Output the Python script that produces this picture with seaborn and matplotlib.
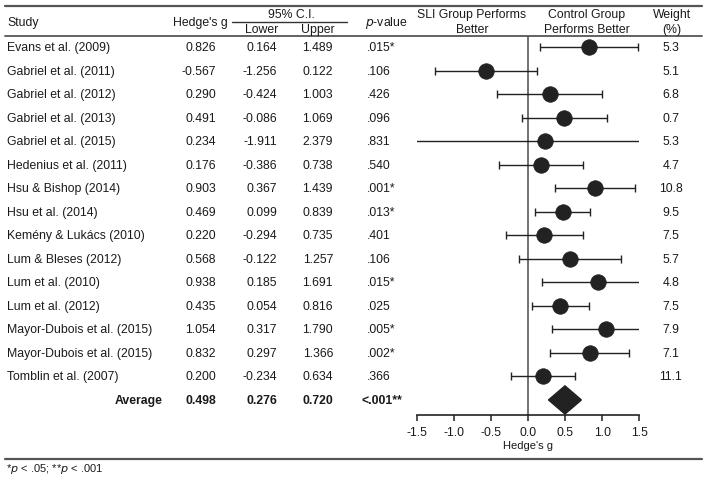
import matplotlib
matplotlib.use("Agg")
import matplotlib.pyplot as plt
import matplotlib.transforms as mtransforms
import numpy as np
import pandas as pd
import seaborn as sns

studies = ["Evans et al. (2009)", "Gabriel et al. (2011)", "Gabriel et al. (2012)",
           "Gabriel et al. (2013)", "Gabriel et al. (2015)", "Hedenius et al. (2011)",
           "Hsu & Bishop (2014)", "Hsu et al. (2014)", "Kemény & Lukács (2010)",
           "Lum & Bleses (2012)", "Lum et al. (2010)", "Lum et al. (2012)",
           "Mayor-Dubois et al. (2015)", "Mayor-Dubois et al. (2015)", "Tomblin et al. (2007)"]
hedges_g = [0.826, -0.567, 0.290, 0.491, 0.234, 0.176, 0.903, 0.469, 0.220, 0.568,
            0.938, 0.435, 1.054, 0.832, 0.200]
ci_lower = [0.164, -1.256, -0.424, -0.086, -1.911, -0.386, 0.367, 0.099, -0.294, -0.122,
            0.185, 0.054, 0.317, 0.297, -0.234]
ci_upper = [1.489, 0.122, 1.003, 1.069, 2.379, 0.738, 1.439, 0.839, 0.735, 1.257,
            1.691, 0.816, 1.790, 1.366, 0.634]
p_values = [".015*", ".106", ".426", ".096", ".831", ".540", ".001*", ".013*", ".401",
            ".106", ".015*", ".025", ".005*", ".002*", ".366"]
weights = ["5.3", "5.1", "6.8", "0.7", "5.3", "4.7", "10.8", "9.5", "7.5", "5.7",
           "4.8", "7.5", "7.9", "7.1", "11.1"]
avg_g, avg_lower, avg_upper, avg_p = 0.498, 0.276, 0.720, "<.001**"
xticks = [-1.5, -1.0, -0.5, 0.0, 0.5, 1.0, 1.5]

df = pd.DataFrame({"study": studies, "g": hedges_g, "lo": ci_lower, "hi": ci_upper,
                   "row": np.arange(len(studies))})
avg_row = len(studies)

sns.set_theme(style="white")
plt.rcParams["font.family"] = ["Liberation Sans", "DejaVu Sans"]
TXT = "#1a1a1a"
FS = 8.8

W, H = 708, 481
fig = plt.figure(figsize=(W / 100, H / 100), dpi=100)

# forest axes: x from px 416.7 to 639.3; y from px 37 to 415
top_px, bot_px = 37, 415.5
ax = fig.add_axes([416.7 / W, 1 - bot_px / H, (639.3 - 416.7) / W, (bot_px - top_px) / H])
row0_px, step_px = 48, 23.53
ax.set_ylim((bot_px - row0_px) / step_px, (top_px - row0_px) / step_px)
ax.set_xlim(-1.5, 1.5)
ax.patch.set_alpha(0)

ax.axvline(0, color="#666666", lw=1.3, zorder=1)
ax.errorbar(df["g"], df["row"], xerr=[df["g"] - df["lo"], df["hi"] - df["g"]],
            fmt="none", ecolor="#222222", elinewidth=1.0, capsize=2.6, capthick=1.0, zorder=2)
sns.scatterplot(data=df, x="g", y="row", ax=ax, s=125, color="#222222",
                edgecolor="#222222", linewidth=0.5, zorder=3, legend=False)
dh = 0.6
ax.fill([avg_lower, avg_g, avg_upper, avg_g], [avg_row, avg_row - dh, avg_row, avg_row + dh],
        color="#222222", zorder=3, clip_on=False)

for s in ["top", "right", "left"]:
    ax.spines[s].set_visible(False)
ax.spines["bottom"].set_color("#222222")
ax.spines["bottom"].set_linewidth(1.2)
ax.set_xticks(xticks)
ax.set_xticklabels([f"{t:.1f}" for t in xticks])
ax.tick_params(axis="x", direction="out", length=4, width=1.1, color="#222222",
               labelsize=FS, labelcolor=TXT, pad=4, bottom=True)
ax.set_yticks([])
ax.set_xlabel("Hedge's g", fontsize=FS - 0.8, color=TXT, labelpad=2)
ax.set_ylabel("")

# table text
tr = mtransforms.blended_transform_factory(fig.transFigure, ax.transData)
def fx(x):
    return x / W

for i in range(len(studies)):
    fig.text(fx(7), i, studies[i], transform=tr, ha="left", va="center", fontsize=FS, color=TXT)
    fig.text(fx(216), i, f"{hedges_g[i]:.3f}", transform=tr, ha="right", va="center", fontsize=FS, color=TXT)
    fig.text(fx(277), i, f"{ci_lower[i]:.3f}", transform=tr, ha="right", va="center", fontsize=FS, color=TXT)
    fig.text(fx(333), i, f"{ci_upper[i]:.3f}", transform=tr, ha="right", va="center", fontsize=FS, color=TXT)
    fig.text(fx(367), i, p_values[i], transform=tr, ha="left", va="center", fontsize=FS, color=TXT)
    fig.text(fx(671), i, weights[i], transform=tr, ha="center", va="center", fontsize=FS, color=TXT)

bold = dict(transform=tr, va="center", fontsize=FS, color=TXT, fontweight="bold")
fig.text(fx(163), avg_row, "Average", ha="right", **bold)
fig.text(fx(216), avg_row, f"{avg_g:.3f}", ha="right", **bold)
fig.text(fx(277), avg_row, f"{avg_lower:.3f}", ha="right", **bold)
fig.text(fx(333), avg_row, f"{avg_upper:.3f}", ha="right", **bold)
fig.text(fx(361), avg_row, avg_p, ha="left", **bold)

# headers
def fy(y):
    return 1 - y / H
hk = dict(fontsize=FS, color=TXT, va="center")
fig.text(fx(7), fy(23), "Study", ha="left", **hk)
fig.text(fx(200), fy(23), "Hedge's g", ha="center", **hk)
fig.text(fx(291), fy(15), "95% C.I.", ha="center", **hk)
fig.text(fx(262), fy(30), "Lower", ha="center", **hk)
fig.text(fx(318), fy(30), "Upper", ha="center", **hk)
fig.text(fx(365), fy(23), "$\\it{p}$-value", ha="left", **hk)
fig.text(fx(472), fy(15), "SLI Group Performs", ha="center", **hk)
fig.text(fx(472), fy(30), "Better", ha="center", **hk)
fig.text(fx(587), fy(15), "Control Group", ha="center", **hk)
fig.text(fx(587), fy(30), "Performs Better", ha="center", **hk)
fig.text(fx(672), fy(15), "Weight", ha="center", **hk)
fig.text(fx(672), fy(30), "(%)", ha="center", **hk)

# rules
def hline(y, x0, x1, lw, c="#555555"):
    fig.add_artist(plt.Line2D([fx(x0), fx(x1)], [fy(y), fy(y)], transform=fig.transFigure,
                              color=c, lw=lw))
hline(7, 5, 702, 1.6)
hline(37, 5, 702, 1.3)
hline(23, 232, 347, 1.0, c="#333333")
hline(460, 5, 702, 1.6)

fig.text(fx(6), fy(469), "*$\\it{p}$ < .05; **$\\it{p}$ < .001", ha="left", va="center",
         fontsize=FS - 0.8, color=TXT)

fig.savefig("out.png", dpi=100)
